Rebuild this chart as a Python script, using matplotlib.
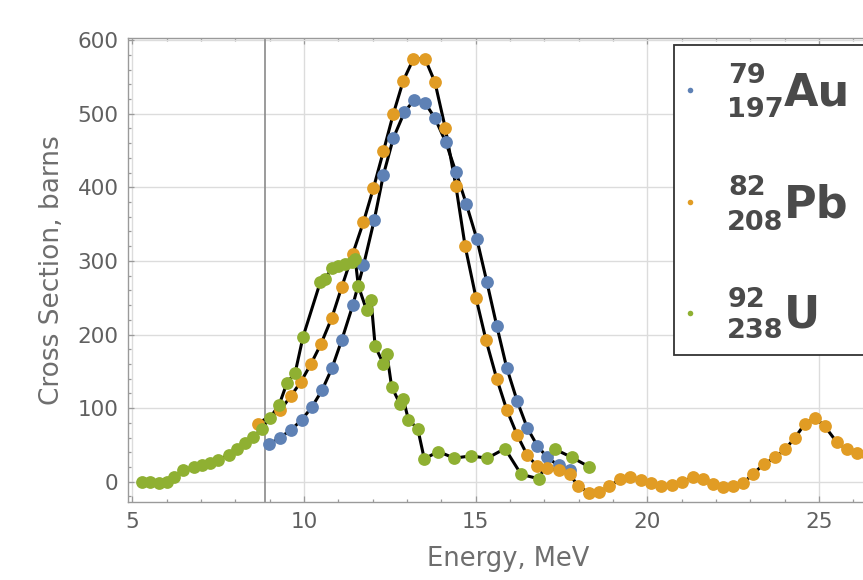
import matplotlib
matplotlib.use("Agg")
import matplotlib.pyplot as plt
from matplotlib.patches import Rectangle
from matplotlib.lines import Line2D
from matplotlib.ticker import MultipleLocator

# Photoneutron cross sections (barns) versus photon energy (MeV)
au_energy = [8.99, 9.30, 9.61, 9.93, 10.22, 10.52, 10.81, 11.10, 11.42, 11.73,
             12.04, 12.31, 12.60, 12.92, 13.21, 13.52, 13.81, 14.13, 14.42, 14.72,
             15.03, 15.32, 15.61, 15.90, 16.21, 16.50, 16.79, 17.08, 17.41, 17.73]
au_sigma = [51, 60, 70, 84, 101, 124, 154, 193, 240, 294,
            355, 417, 467, 502, 519, 515, 494, 461, 421, 378,
            330, 272, 212, 155, 109, 73, 49, 33, 22, 16]

pb_energy = [8.65, 9.30, 9.61, 9.91, 10.20, 10.49, 10.81, 11.10, 11.42, 11.73,
             12.02, 12.31, 12.60, 12.89, 13.18, 13.52, 13.81, 14.11, 14.42, 14.69,
             15.01, 15.30, 15.61, 15.90, 16.21, 16.50, 16.79, 17.08, 17.41, 17.73,
             17.99, 18.30, 18.60, 18.89, 19.20, 19.49, 19.80, 20.11, 20.40, 20.71,
             21.02, 21.32, 21.61, 21.92, 22.21, 22.50, 22.79, 23.08, 23.40, 23.72,
             24.01, 24.30, 24.59, 24.88, 25.17, 25.51, 25.80, 26.10, 26.40]
pb_sigma = [79, 97, 116, 136, 160, 187, 223, 265, 310, 353,
            399, 449, 500, 545, 574, 575, 543, 481, 402, 320,
            249, 192, 140, 98, 63, 36, 21, 18, 16, 10,
            -6, -15, -14, -6, 3, 7, 2, -2, -6, -4,
            0, 6, 3, -3, -7, -6, -2, 11, 24, 33,
            44, 60, 79, 87, 75, 54, 44, 39, 37]

u_energy = [5.27, 5.52, 5.76, 6.00, 6.21, 6.47, 6.78, 7.02, 7.26, 7.50,
            7.80, 8.04, 8.28, 8.52, 8.77, 9.01, 9.27, 9.50, 9.74, 9.97,
            10.47, 10.60, 10.81, 11.00, 11.19, 11.39, 11.49, 11.58, 11.82, 11.95,
            12.07, 12.31, 12.41, 12.55, 12.80, 12.89, 13.04, 13.31, 13.50, 13.91,
            14.37, 14.85, 15.34, 15.85, 16.32, 16.83, 17.31, 17.80, 18.31]
u_sigma = [0, -1, -2, -1, 6, 16, 20, 23, 26, 30,
           36, 44, 52, 61, 72, 87, 104, 134, 148, 197,
           271, 275, 290, 293, 296, 298, 302, 266, 233, 247,
           184, 160, 174, 129, 105, 112, 84, 72, 31, 41,
           32, 35, 32, 45, 10, 4, 44, 33, 20]

threshold_energy = 8.85

series_names = ["Au", "Pb", "U"]
series_upper = ["79", "82", "92"]
series_lower = ["197", "208", "238"]
series_colors = ["#5E81B5", "#E19C24", "#8FB032"]

x_label = "Energy, MeV"
y_label = "Cross Section, barns"

W, H = 863, 580
fig = plt.figure(figsize=(W / 100, H / 100), dpi=100)
ax = fig.add_axes([128.3 / W, (H - 502) / H, (887.8 - 128.3) / W, (502 - 37.7) / H])
ax.set_xlim(4.88, 27.0)
ax.set_ylim(-27.6, 603.3)

ax.xaxis.set_major_locator(MultipleLocator(5))
ax.xaxis.set_minor_locator(MultipleLocator(1))
ax.yaxis.set_major_locator(MultipleLocator(100))
ax.yaxis.set_minor_locator(MultipleLocator(20))
ax.grid(True, which="major", color="#dcdcdc", lw=1.0, zorder=0)
ax.set_axisbelow(True)

for side in ["left", "bottom", "top", "right"]:
    ax.spines[side].set_color("#9a9a9a")
    ax.spines[side].set_linewidth(1.0)

ax.tick_params(which="both", direction="in", top=True, right=False,
               color="#9a9a9a", width=0.9)
ax.tick_params(which="major", length=4.5, labelsize=15.5, labelcolor="#606060", pad=7)
ax.tick_params(which="minor", length=2.5)

ax.axvline(threshold_energy, color="#8a8a8a", lw=1.2, zorder=1)

datasets = [(au_energy, au_sigma), (pb_energy, pb_sigma), (u_energy, u_sigma)]
for e, s in datasets:
    ax.plot(e, s, color="black", lw=2.2, zorder=2, solid_joinstyle="round")
for (e, s), c in zip(datasets, series_colors):
    ax.plot(e, s, ls="none", marker="o", ms=9.2, mfc=c, mec="none", zorder=3)

ax.set_xlabel(x_label, fontsize=18.5, color="#6e6e6e", labelpad=10)
ax.set_ylabel(y_label, fontsize=19, color="#6e6e6e", labelpad=9)

# Legend panel with nuclide symbols
box = Rectangle((674 / W, (H - 355) / H), (880 - 674) / W, 310 / H,
                transform=fig.transFigure, facecolor="white",
                edgecolor="#333333", lw=1.3, zorder=5)
fig.add_artist(box)

dot_y = [90, 202, 313]
upper_base = [83, 195, 307]
lower_base = [117, 230, 338]
sym_base = [105, 217, 327]
txt_color = "#4a4a4a"
for i in range(3):
    fig.add_artist(Line2D([690 / W], [(H - dot_y[i]) / H], marker="o", ms=4,
                          mfc=series_colors[i], mec="none", ls="none",
                          transform=fig.transFigure, zorder=6))
    fig.text(728 / W, (H - upper_base[i]) / H, series_upper[i], fontsize=19.5,
             fontweight="bold", color=txt_color, va="baseline", ha="left", zorder=6)
    fig.text(727 / W, (H - lower_base[i]) / H, series_lower[i], fontsize=19.5,
             fontweight="bold", color=txt_color, va="baseline", ha="left", zorder=6)
    fig.text(784 / W, (H - sym_base[i]) / H, series_names[i], fontsize=32,
             fontweight="bold", color=txt_color, va="baseline", ha="left", zorder=6)

fig.savefig("out.png", dpi=100)
